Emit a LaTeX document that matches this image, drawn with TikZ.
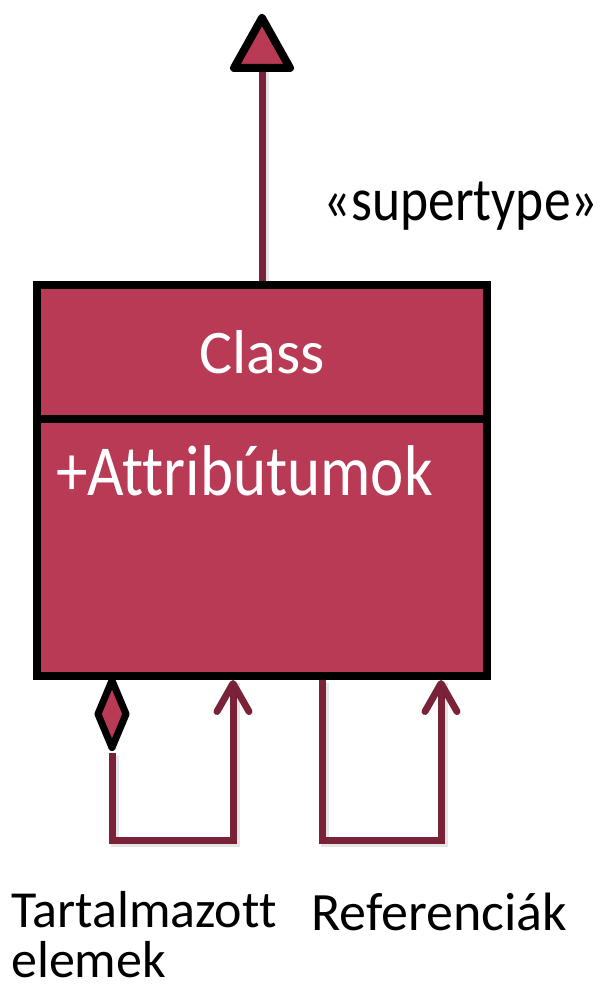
\documentclass[tikz,border=0pt]{standalone}
\usepackage{fontspec}
\setmainfont{Carlito}[Ligatures=NoCommon]
\usetikzlibrary{arrows.meta,shapes.geometric,shadows}
\definecolor{classfill}{HTML}{B93A54}
\definecolor{linkred}{HTML}{7A2238}
\begin{document}
\begin{tikzpicture}[x=1pt,y=-1pt,
  conn/.style={draw=linkred, line width=7pt},
  openhead/.style={-{Straight Barb[length=28pt,width=32pt,round]}},
  shadowline/.style={draw=black, opacity=0.1, line width=8pt,
    transform canvas={shift={(3pt,-3pt)}}},
  outline/.style={draw=black, line width=8pt},
  classbox/.style={rectangle, outline, fill=classfill, inner sep=0pt,
    minimum width=450pt, minimum height=391pt,
    drop shadow={shadow xshift=4pt, shadow yshift=-4pt, opacity=0.25}},
  label/.style={inner sep=0pt, font=\fontsize{52}{50}\selectfont}
]
\useasboundingbox (0,0) rectangle (600,995);

% named points of the connectors
\coordinate (genbase) at (262,68);
\coordinate (genapex) at (262,18);
\coordinate (clstop) at (262,285);
\coordinate (lcorner) at (112,840);
\coordinate (lcorner2) at (233,840);
\coordinate (ltip) at (233,680);
\coordinate (rstart) at (322,680);
\coordinate (rcorner) at (322,840);
\coordinate (rcorner2) at (441,840);
\coordinate (rtip) at (441,680);

% generalisation to the supertype
\draw[shadowline] (clstop) -- (genbase);
\draw[conn] (clstop) -- (genbase);
\fill[black, opacity=0.15] ([shift={(3,3)}]genapex) -- ++(28,50) -- ++(-56,0) -- cycle;
\draw[outline, fill=classfill, line join=round]
  (genapex) -- ([xshift=28]genbase) -- ([xshift=-28]genbase) -- cycle;

\node[label, anchor=base] (st) at (461,220)
  {\scalebox{1}[1.14]{\fontsize{53.5}{53.5}\selectfont «supertype»}};

% the class box
\node[classbox] (cls) at (262,480.5) {};
\draw[outline] (cls.west |- 0,419) -- (cls.east |- 0,419);
\node[label, anchor=base, text=white, font=\fontsize{62}{62}\selectfont] (name) at (262,373) {Class};
\node[label, anchor=base west, text=white] (attr) at (56,495)
  {\scalebox{1}[1.14]{\fontsize{63}{63}\selectfont +Attribútumok}};

% composition loop
\node[diamond, outline, line width=7pt, fill=classfill, inner sep=0pt,
  minimum width=31pt, minimum height=70pt, line join=round,
  drop shadow={shadow xshift=3pt, shadow yshift=-3pt, opacity=0.15}] (dia) at (112,714) {};
\draw[shadowline] (dia.south) -- (lcorner) -- (lcorner2) -- (ltip);
\draw[conn, openhead] (dia.south) -- (lcorner) -- (lcorner2) -- (ltip);

% reference loop
\draw[shadowline] (rstart) -- (rcorner) -- (rcorner2) -- (rtip);
\draw[conn, openhead] (rstart) -- (rcorner) -- (rcorner2) -- (rtip);

% loop labels
\node[label, anchor=base west, align=left] (contained) at (11,977)
  {Tartalmazott\\elemek};
\node[label, anchor=base west] (refs) at (311,930)
  {\fontsize{54}{54}\selectfont Referenciák};
\end{tikzpicture}
\end{document}
